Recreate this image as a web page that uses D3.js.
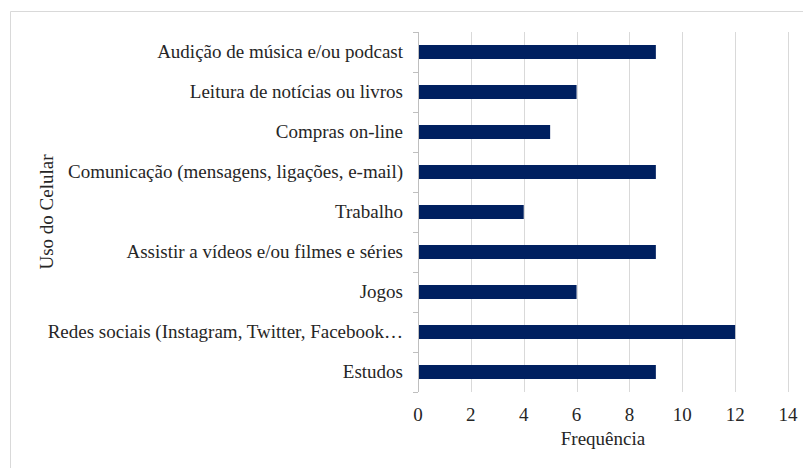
<!DOCTYPE html>
<html>
  <head>
    <meta charset="utf-8">
    <script src="https://d3js.org/d3.v7.min.js"></script>
    <style>
      body { margin:0; background:#fff; }
    </style>
  </head>
  <body>
    <script>
    // categories top to bottom, as displayed
    var categories = [
      "Audição de música e/ou podcast",
      "Leitura de notícias ou livros",
      "Compras on-line",
      "Comunicação (mensagens, ligações, e-mail)",
      "Trabalho",
      "Assistir a vídeos e/ou filmes e séries",
      "Jogos",
      "Redes sociais (Instagram, Twitter, Facebook…",
      "Estudos"
    ];
    var frequencies = [9, 6, 5, 9, 4, 9, 6, 12, 9];
    var xTicks = [0, 2, 4, 6, 8, 10, 12, 14];

    var width = 803, height = 468;
    var margin = {top: 32, right: 15, bottom: 76, left: 418};
    var font = "'Liberation Serif', 'Times New Roman', serif";

    var svg = d3.select("body").append("svg")
        .attr("width", width)
        .attr("height", height)
        .attr("font-family", font)
        .attr("font-size", 19);

    // chart border (only top and left show in the crop)
    svg.append("path")
        .attr("d", "M10.5," + height + "V11.5H" + width)
        .attr("fill", "none")
        .attr("stroke", "#d9d9d9");

    var x = d3.scaleLinear().domain([0, 14]).range([margin.left, 788]);
    var y = d3.scaleBand().domain(categories)
        .range([margin.top, height - margin.bottom])
        .paddingInner(0.65).paddingOuter(0.325);

    // vertical gridlines
    svg.append("g").selectAll("line")
      .data(xTicks.slice(1))
      .enter().append("line")
        .attr("x1", function(d){ return Math.round(x(d)) + 0.5; })
        .attr("x2", function(d){ return Math.round(x(d)) + 0.5; })
        .attr("y1", margin.top)
        .attr("y2", height - margin.bottom)
        .attr("stroke", "#d9d9d9");

    // bars
    svg.append("g").selectAll("rect")
      .data(frequencies)
      .enter().append("rect")
        .attr("x", x(0))
        .attr("y", function(d, i){ return y(categories[i]); })
        .attr("width", function(d){ return x(d) - x(0); })
        .attr("height", y.bandwidth())
        .attr("fill", "#002060");

    // category axis line + boundary ticks
    var step = y.step();
    var ax = svg.append("g");
    ax.append("line")
        .attr("x1", x(0) + 0.5).attr("x2", x(0) + 0.5)
        .attr("y1", margin.top).attr("y2", height - margin.bottom)
        .attr("stroke", "#bfbfbf");
    ax.selectAll(".tk")
      .data(d3.range(categories.length + 1))
      .enter().append("line")
        .attr("x1", x(0) - 5).attr("x2", x(0))
        .attr("y1", function(i){ return Math.round(margin.top + i * step) + 0.5; })
        .attr("y2", function(i){ return Math.round(margin.top + i * step) + 0.5; })
        .attr("stroke", "#bfbfbf");

    // category labels
    svg.append("g").selectAll("text")
      .data(categories)
      .enter().append("text")
        .attr("x", x(0) - 15)
        .attr("y", function(d){ return y(d) + y.bandwidth() / 2; })
        .attr("dy", "0.34em")
        .attr("text-anchor", "end")
        .attr("fill", "#262626")
        .text(function(d){ return d; });

    // x tick labels
    svg.append("g").selectAll("text")
      .data(xTicks)
      .enter().append("text")
        .attr("x", function(d){ return x(d); })
        .attr("y", 421)
        .attr("text-anchor", "middle")
        .attr("fill", "#262626")
        .text(function(d){ return d; });

    // axis titles
    svg.append("text")
        .attr("x", (x(0) + x(14)) / 2)
        .attr("y", 445)
        .attr("text-anchor", "middle")
        .attr("fill", "#262626")
        .text("Frequência");

    svg.append("text")
        .attr("transform", "translate(53," + ((margin.top + height - margin.bottom) / 2) + ") rotate(-90)")
        .attr("text-anchor", "middle")
        .attr("fill", "#262626")
        .text("Uso do Celular");
    </script>
  </body>
</html>
